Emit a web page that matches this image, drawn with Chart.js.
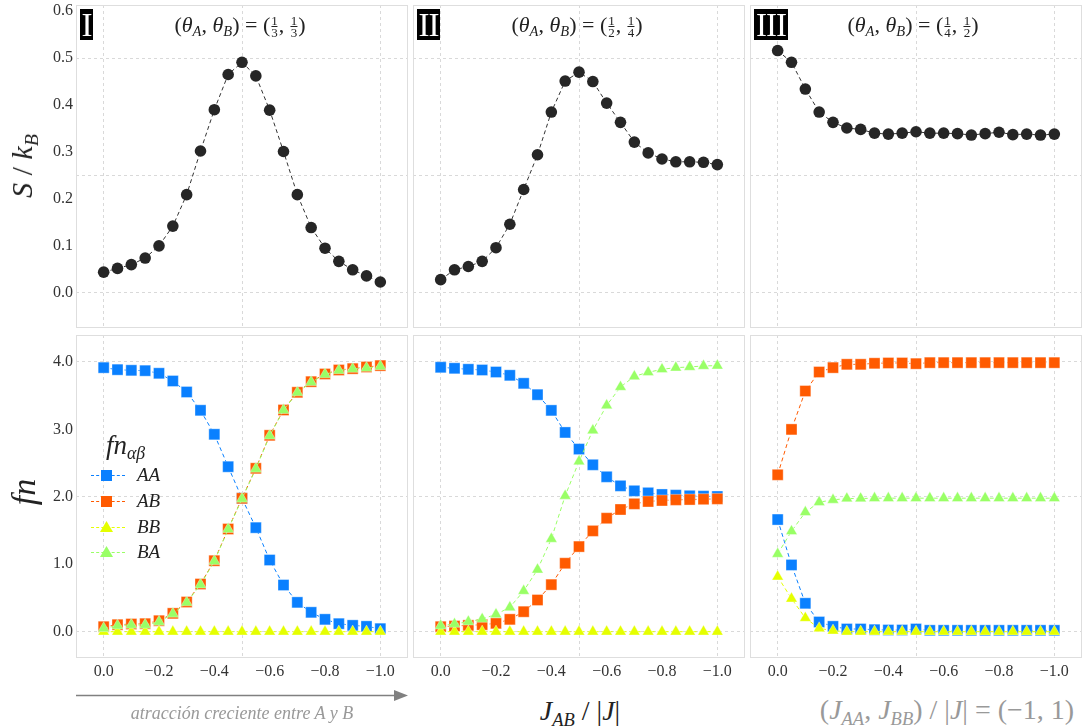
<!DOCTYPE html>
<html>
<head>
<meta charset="utf-8">
<script src="https://cdn.jsdelivr.net/npm/chart.js@4.4.1/dist/chart.umd.min.js"></script>
<style>
  body { margin: 0; width: 1086px; height: 726px; background: #fff; position: relative; overflow: hidden;
         font-family: "Liberation Serif", serif; color: #222; }
  .box { position: absolute; }
  .lbl { position: absolute; white-space: nowrap; }
  .roman { position: absolute; top: 9px; height: 31px; background: #000; color: #fff; font-size: 33px;
           line-height: 32px; text-align: center; letter-spacing: -1px; }
  .ttl { position: absolute; top: 12px; font-size: 22px; transform: translateX(-50%); white-space: nowrap; }
  .fr { display: inline-flex; flex-direction: column; vertical-align: middle; font-size: 13px; line-height: 11px;
        text-align: center; margin: 0 1px; }
  .fr span:first-child { border-bottom: 1px solid #222; }
  sub { font-size: 66%; vertical-align: -0.3em; line-height: 0; }
  .leg { position: absolute; left: 91px; width: 34px; height: 0; border-top: 1px dashed; }
  .sq { position: absolute; width: 11px; height: 11px; left: 101px; }
  .tri { position: absolute; width: 13px; height: 11px; left: 100px; clip-path: polygon(50% 0, 100% 100%, 0 100%); }
  .legtxt { position: absolute; left: 137px; font-size: 19px; font-style: italic; line-height: 20px; }
</style>
</head>
<body>

<div class="box" style="left:0;top:0"><canvas id="c00" width="408" height="328"></canvas></div>
<div class="box" style="left:413px;top:0"><canvas id="c01" width="332" height="328"></canvas></div>
<div class="box" style="left:750px;top:0"><canvas id="c02" width="332" height="328"></canvas></div>
<div class="box" style="left:0;top:335px"><canvas id="c10" width="408" height="355"></canvas></div>
<div class="box" style="left:413px;top:335px"><canvas id="c11" width="332" height="355"></canvas></div>
<div class="box" style="left:750px;top:335px"><canvas id="c12" width="332" height="355"></canvas></div>

<!-- panel tags and titles -->
<div class="roman" style="left:80px;width:13px">I</div>
<div class="roman" style="left:417px;width:23px">II</div>
<div class="roman" style="left:754px;width:34px">III</div>

<div class="ttl" style="left:240px">(<i>θ</i><sub><i>A</i></sub>, <i>θ</i><sub><i>B</i></sub>) = (<span class="fr"><span>1</span><span>3</span></span>, <span class="fr"><span>1</span><span>3</span></span>)</div>
<div class="ttl" style="left:577px">(<i>θ</i><sub><i>A</i></sub>, <i>θ</i><sub><i>B</i></sub>) = (<span class="fr"><span>1</span><span>2</span></span>, <span class="fr"><span>1</span><span>4</span></span>)</div>
<div class="ttl" style="left:913px">(<i>θ</i><sub><i>A</i></sub>, <i>θ</i><sub><i>B</i></sub>) = (<span class="fr"><span>1</span><span>4</span></span>, <span class="fr"><span>1</span><span>2</span></span>)</div>

<!-- axis titles -->
<div class="lbl" style="left:22px;top:166px;font-size:30px;transform:translate(-50%,-50%) rotate(-90deg)"><i>S</i> / <i>k</i><sub><i>B</i></sub></div>
<div class="lbl" style="left:24px;top:492px;font-size:34px;transform:translate(-50%,-50%) rotate(-90deg)"><i>fn</i></div>
<div class="lbl" style="left:580px;top:711px;font-size:28px;transform:translate(-50%,-50%)"><i>J</i><sub><i>AB</i></sub> / |<i>J</i>|</div>
<div class="lbl" style="left:947px;top:710px;font-size:28px;color:#999;transform:translate(-50%,-50%)">(<i>J</i><sub><i>AA</i></sub>, <i>J</i><sub><i>BB</i></sub>) / |<i>J</i>| = (−1, 1)</div>

<svg class="box" style="left:0;top:685px" width="420" height="20">
  <line x1="76" y1="10.5" x2="396" y2="10.5" stroke="#808080" stroke-width="1.5"/>
  <polygon points="394,5 408,10.5 394,16" fill="#808080"/>
</svg>
<div class="lbl" style="left:242px;top:713px;font-size:18px;font-style:italic;color:#999;transform:translate(-50%,-50%)">atracción creciente entre A y B</div>

<!-- legend -->
<div class="lbl" style="left:106px;top:430px;font-size:27px;font-style:italic"><i>fn</i><sub><i>αβ</i></sub></div>
<div class="leg" style="top:475px;border-color:#0a80ff"></div>
<div class="sq" style="top:470px;background:#0a80ff"></div>
<div class="legtxt" style="top:465px">AA</div>
<div class="leg" style="top:501px;border-color:#ff5a00"></div>
<div class="sq" style="top:496px;background:#ff5a00"></div>
<div class="legtxt" style="top:491px">AB</div>
<div class="leg" style="top:527px;border-color:#e5ff00"></div>
<div class="tri" style="top:521px;background:#e5ff00"></div>
<div class="legtxt" style="top:517px">BB</div>
<div class="leg" style="top:552px;border-color:#99ff66"></div>
<div class="tri" style="top:546px;background:#99ff66"></div>
<div class="legtxt" style="top:542px">BA</div>

<script>
// J_AB/|J| values, same for every panel
const xs = [0, -0.05, -0.1, -0.15, -0.2, -0.25, -0.3, -0.35, -0.4, -0.45, -0.5,
            -0.55, -0.6, -0.65, -0.7, -0.75, -0.8, -0.85, -0.9, -0.95, -1.0];

// entropy S/k_B
const sI   = [0.044, 0.052, 0.060, 0.074, 0.100, 0.142, 0.209, 0.302, 0.390, 0.465, 0.491,
              0.462, 0.389, 0.301, 0.209, 0.139, 0.095, 0.067, 0.049, 0.036, 0.023];
const sII  = [0.028, 0.049, 0.056, 0.067, 0.096, 0.146, 0.220, 0.294, 0.385, 0.451, 0.470,
              0.450, 0.404, 0.363, 0.321, 0.298, 0.285, 0.279, 0.279, 0.278, 0.273];
const sIII = [0.516, 0.491, 0.434, 0.385, 0.363, 0.351, 0.348, 0.340, 0.338, 0.340, 0.343,
              0.340, 0.340, 0.339, 0.336, 0.339, 0.342, 0.337, 0.338, 0.336, 0.338];

// fn_ab, panel I
const aaI = [3.916, 3.886, 3.876, 3.871, 3.832, 3.718, 3.555, 3.283, 2.927, 2.447, 1.978,
             1.543, 1.063, 0.692, 0.435, 0.287, 0.183, 0.119, 0.094, 0.079, 0.045];
const abI = [0.074, 0.104, 0.114, 0.119, 0.163, 0.272, 0.440, 0.707, 1.053, 1.523, 1.978,
             2.423, 2.912, 3.288, 3.550, 3.708, 3.822, 3.881, 3.901, 3.926, 3.946];
const bbI = [0.000, 0.000, 0.000, 0.000, 0.000, 0.000, 0.000, 0.000, 0.000, 0.000, 0.000,
             0.000, 0.000, 0.000, 0.000, 0.000, 0.000, 0.000, 0.000, 0.000, 0.000];
const baI = [0.050, 0.090, 0.100, 0.100, 0.145, 0.265, 0.433, 0.697, 1.046, 1.520, 1.970,
             2.415, 2.905, 3.285, 3.547, 3.700, 3.815, 3.875, 3.895, 3.910, 3.935];

// panel II
const aaII = [3.921, 3.906, 3.891, 3.881, 3.851, 3.802, 3.683, 3.515, 3.282, 2.955, 2.708,
              2.475, 2.297, 2.163, 2.089, 2.059, 2.035, 2.025, 2.015, 2.010, 2.005];
const abII = [0.074, 0.084, 0.094, 0.104, 0.124, 0.183, 0.297, 0.470, 0.698, 1.015, 1.262,
              1.495, 1.683, 1.812, 1.896, 1.931, 1.946, 1.955, 1.960, 1.965, 1.970];
const bbII = [0.000, 0.000, 0.000, 0.000, 0.000, 0.000, 0.000, 0.000, 0.000, 0.000, 0.000,
              0.000, 0.000, 0.000, 0.000, 0.000, 0.000, 0.000, 0.000, 0.000, 0.000];
const baII = [0.089, 0.114, 0.149, 0.188, 0.257, 0.361, 0.604, 0.921, 1.376, 2.015, 2.525,
              2.985, 3.356, 3.629, 3.787, 3.847, 3.891, 3.916, 3.926, 3.941, 3.946];

// panel III
const aaIII = [1.663, 0.990, 0.421, 0.144, 0.079, 0.040, 0.040, 0.030, 0.025, 0.025, 0.040,
               0.020, 0.020, 0.020, 0.020, 0.020, 0.020, 0.020, 0.020, 0.020, 0.020];
const abIII = [2.327, 3.000, 3.569, 3.851, 3.916, 3.965, 3.965, 3.980, 3.985, 3.985, 3.975,
               3.990, 3.990, 3.990, 3.990, 3.990, 3.990, 3.990, 3.990, 3.990, 3.990];
const bbIII = [0.817, 0.490, 0.203, 0.050, 0.015, 0.000, 0.000, 0.000, 0.000, 0.000, 0.000,
               0.000, 0.000, 0.000, 0.000, 0.000, 0.000, 0.000, 0.000, 0.000, 0.000];
const baIII = [1.153, 1.490, 1.772, 1.921, 1.955, 1.975, 1.975, 1.980, 1.980, 1.980, 1.980,
               1.980, 1.980, 1.980, 1.980, 1.980, 1.980, 1.980, 1.980, 1.980, 1.980];

// ticks and grid lines
const sTicks  = [0, 0.1, 0.2, 0.25, 0.3, 0.4, 0.5, 0.6];
const sGrid   = [0, 0.25, 0.5];
const fnTicks = [0, 1, 2, 3, 4];
const fnGrid  = [0, 2, 4];
const xTicks  = [0, -0.2, -0.4, -0.5, -0.6, -0.8, -1.0];
const xGrid   = [0, -0.5, -1.0];

const colors = { AA: '#0a80ff', AB: '#ff5a00', BB: '#e5ff00', BA: '#99ff66' };

Chart.defaults.font.family = '"Liberation Serif", serif';
Chart.defaults.font.size = 16;
Chart.defaults.color = '#333';

const panelBorder = {
    id: 'panelBorder',
    beforeDatasetsDraw(chart) {
        const { ctx, chartArea: a } = chart;
        ctx.save();
        ctx.strokeStyle = '#dedede';
        ctx.lineWidth = 1;
        ctx.strokeRect(a.left + 0.5, a.top + 0.5, a.right - a.left - 1, a.bottom - a.top - 1);
        ctx.restore();
    }
};

const pts = ys => xs.map((x, i) => ({ x: x, y: ys[i] }));

// no extra padding from tick labels, keep every panel the same size
function noPad(s) {
    s.paddingTop = 0;
    s.paddingBottom = 0;
    s.paddingLeft = 0;
    s.paddingRight = 0;
}

function sSet(ys) {
    return [{
        data: pts(ys),
        borderColor: '#333',
        borderWidth: 1,
        borderDash: [4, 3],
        pointRadius: 5.8,
        pointBackgroundColor: '#262626',
        pointBorderWidth: 0,
        tension: 0
    }];
}

function fnSet(aa, ab, bb, ba) {
    const mk = (ys, name, style, r, ord) => ({
        label: name,
        data: pts(ys),
        borderColor: colors[name],
        borderWidth: 1,
        borderDash: [4, 3],
        pointStyle: style,
        pointRadius: r,
        pointBackgroundColor: colors[name],
        pointBorderColor: 'rgba(255,255,255,0.35)',
        pointBorderWidth: 1,
        order: ord,
        tension: 0
    });
    return [
        mk(aa, 'AA', 'rect', 7.8, 4),
        mk(ab, 'AB', 'rect', 7.8, 3),
        mk(bb, 'BB', 'triangle', 6.6, 2),
        mk(ba, 'BA', 'triangle', 6.6, 1)
    ];
}

function makeChart(id, datasets, yMin, yMax, yTicks, yGrid, yLabels, xLabels, padTop) {
    const ctx = document.getElementById(id).getContext('2d');
    return new Chart(ctx, {
        type: 'line',
        data: { datasets: datasets },
        plugins: [panelBorder],
        options: {
            responsive: false,
            animation: false,
            layout: { padding: { top: padTop, left: 0, right: 0, bottom: 0 }, autoPadding: false },
            plugins: { legend: { display: false }, tooltip: { enabled: false } },
            scales: {
                x: {
                    type: 'linear',
                    reverse: true,
                    min: -1.1,
                    max: 0.1,
                    afterBuildTicks: s => { s.ticks = xTicks.map(v => ({ value: v })); },
                    afterFit: s => { s.height = xLabels ? 32 : 0; noPad(s); },
                    ticks: {
                        display: xLabels,
                        autoSkip: false,
                        maxRotation: 0,
                        padding: 4,
                        callback: v => v === -0.5 ? '' : (v === 0 ? '0.0' : '\u2212' + Math.abs(v).toFixed(1))
                    },
                    grid: {
                        drawTicks: false,
                        color: c => xGrid.includes(c.tick.value) ? '#d9d9d9' : 'rgba(0,0,0,0)'
                    },
                    border: { display: false, dash: [3, 3] }
                },
                y: {
                    type: 'linear',
                    min: yMin,
                    max: yMax,
                    afterBuildTicks: s => { s.ticks = yTicks.map(v => ({ value: v })); },
                    afterFit: s => { s.width = yLabels ? 76 : 0; noPad(s); },
                    ticks: {
                        display: yLabels,
                        autoSkip: false,
                        padding: 3,
                        callback: v => v === 0.25 ? '' : v.toFixed(1)
                    },
                    grid: {
                        drawTicks: false,
                        color: c => yGrid.includes(c.tick.value) ? '#d9d9d9' : 'rgba(0,0,0,0)'
                    },
                    border: { display: false, dash: [3, 3] }
                }
            }
        }
    });
}

makeChart('c00', sSet(sI),   -0.075, 0.613, sTicks, sGrid, true,  false, 5);
makeChart('c01', sSet(sII),  -0.075, 0.613, sTicks, sGrid, false, false, 5);
makeChart('c02', sSet(sIII), -0.075, 0.613, sTicks, sGrid, false, false, 5);

makeChart('c10', fnSet(aaI, abI, bbI, baI),         -0.39, 4.40, fnTicks, fnGrid, true,  true, 0);
makeChart('c11', fnSet(aaII, abII, bbII, baII),     -0.39, 4.40, fnTicks, fnGrid, false, true, 0);
makeChart('c12', fnSet(aaIII, abIII, bbIII, baIII), -0.39, 4.40, fnTicks, fnGrid, false, true, 0);
</script>
</body>
</html>
